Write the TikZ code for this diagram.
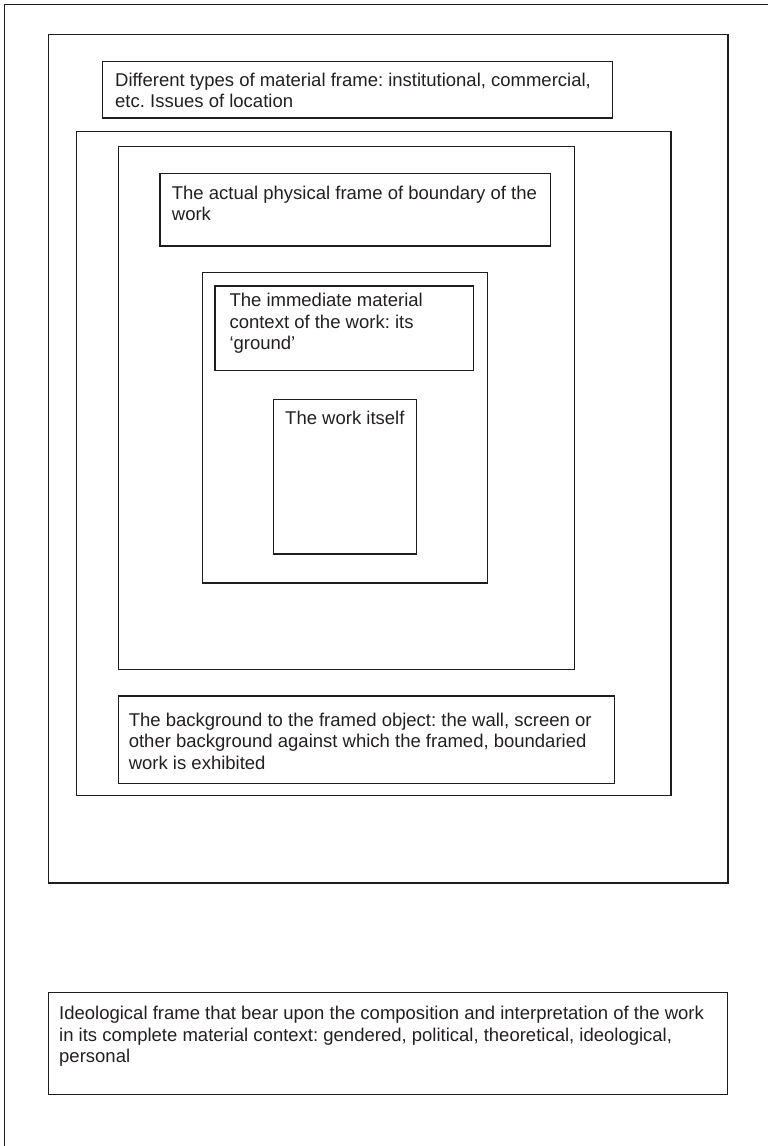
\documentclass[tikz,border=0pt]{standalone}
\usepackage{fontspec}
\setmainfont{Liberation Sans}
\frenchspacing
\definecolor{ink}{RGB}{35,31,32}
\definecolor{rule}{RGB}{30,30,30}
\begin{document}
\begin{tikzpicture}[x=1pt,y=-1pt,
  frame/.style={draw=rule,line width=1.3pt},
  label/.style={anchor=base west,align=left,inner sep=0pt,text=ink,
    font=\fontsize{18.5}{21.6}\selectfont\frenchspacing}]
\useasboundingbox (0,0) rectangle (768,1146);
% outer open frame
\draw[frame] (4.5,1146) -- (4.5,4.5) -- (768,4.5);
% nested frames
\draw[frame] (48.3,34.3) rectangle (728,883);
\draw[frame] (102.7,61.7) rectangle (612.7,118);
\draw[frame] (76.7,131.5) rectangle (671,795.5);
\draw[frame] (118.5,146.7) rectangle (574.7,669.5);
\draw[frame] (160,173.3) rectangle (550.5,246);
\draw[frame] (202.7,272.7) rectangle (487.7,583);
\draw[frame] (215,286) rectangle (473.3,370.7);
\draw[frame] (273.3,399.3) rectangle (416.7,554);
\draw[frame] (118.3,696) rectangle (614.3,783.3);
\draw[frame] (48.3,992.3) rectangle (727.7,1094.3);
% texts (base anchor = baseline of the last line)
\node[label] (tB) at (115,107.8) {Different types of material frame: institutional, commercial,\\etc. Issues of location};
\node[label] (tE) at (171.7,220.6) {The actual physical frame of boundary of the\\work};
\node[label] (tG) at (229.3,349.6) {The immediate material\\context of the work: its\\‘ground’};
\node[label] (tH) at (285,424.3) {The work itself};
\node[label] (tI) at (128.6,769.5) {The background to the framed object: the wall, screen or\\other background against which the framed, boundaried\\work is exhibited};
\node[label] (tJ) at (59,1062.7) {Ideological frame that bear upon the composition and interpretation of the work\\in its complete material context: gendered, political, theoretical, ideological,\\personal};
\end{tikzpicture}
\end{document}
